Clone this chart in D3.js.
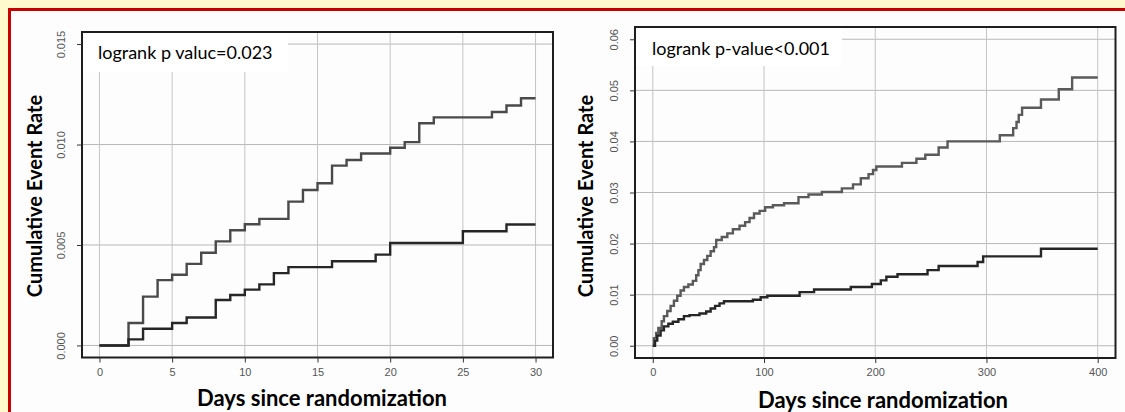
<!DOCTYPE html>
<html lang="en">
<head>
<meta charset="utf-8" />
<title>Cumulative Event Rate</title>
<script src="https://d3js.org/d3.v7.min.js"></script>
<style>
    body {
        margin: 0;
        padding: 0;
        background: #fffacd;
    }
    svg {
        display: block;
    }
    .tick text {
        font-family: "Liberation Sans", Arial, sans-serif;
        font-size: 11px;
        fill: #555;
    }
    .tick line {
        stroke: #333;
    }
    .title {
        font-family: Lato, "Open Sans", sans-serif;
        font-weight: bold;
        fill: #000;
    }
    .note {
        font-family: Lato, "Open Sans", sans-serif;
        font-size: 18px;
        fill: #000;
    }
</style>
</head>
<body>
<svg id="chart"></svg>
<script>
    var w = 1125;
    var h = 412;

    // Left panel: 30 days  [day, cumulative rate]
    var leftUpper = [[0,0],[2,0.00112],[3,0.00243],[4,0.00325],[5,0.00352],[6,0.00406],[7,0.00461],[8,0.00518],
        [9,0.00573],[10,0.00603],[11,0.0063],[13,0.00716],[14,0.00774],[15,0.00807],[16,0.00895],[17,0.00923],
        [18,0.00955],[20,0.00984],[21,0.01012],[22,0.01106],[23,0.01135],[27,0.01162],[28,0.01194],[29,0.0123],[30,0.0123]];
    var leftLower = [[0,0],[2,0.0003],[3,0.00083],[5,0.00112],[6,0.00139],[8,0.00226],[9,0.00251],[10,0.00278],
        [11,0.00304],[12,0.0036],[13,0.0039],[16,0.00419],[19,0.00452],[20,0.0051],[25,0.00568],[28,0.00602],[30,0.00602]];
    var leftXTicks = [0, 5, 10, 15, 20, 25, 30];
    var leftYTicks = [0, 0.005, 0.010, 0.015];
    var leftNote = "logrank p valuc=0.023";

    // Right panel: 400 days
    var rightUpper = [[0,0],[1,0.0015],[3,0.0025],[5,0.0035],[8,0.0048],[10,0.0058],[13,0.0068],[16,0.0078],
        [19,0.0088],[22,0.0098],[25,0.0108],[28,0.0115],[32,0.012],[36,0.0127],[39,0.0138],[41,0.0148],[43,0.016],
        [46,0.0168],[49,0.0176],[52,0.0185],[55,0.0193],[57,0.0207],[62,0.0213],[67,0.022],[72,0.0228],[78,0.0235],
        [83,0.0242],[87,0.025],[91,0.0259],[96,0.0264],[101,0.0271],[108,0.0275],[118,0.0279],[131,0.0291],
        [140,0.0296],[152,0.0301],[170,0.0308],[180,0.0316],[187,0.0328],[194,0.0336],[198,0.0344],[201,0.0351],
        [224,0.0358],[237,0.0366],[245,0.0374],[257,0.0388],[265,0.04],[312,0.0412],[324,0.0426],[327,0.0438],
        [329,0.0452],[332,0.0466],[349,0.0482],[365,0.0502],[377,0.0525],[400,0.0525]];
    var rightLower = [[0,0],[2,0.001],[4,0.002],[7,0.003],[10,0.0038],[14,0.0043],[18,0.0047],[23,0.0052],
        [28,0.0058],[33,0.006],[42,0.0063],[48,0.0067],[52,0.0073],[56,0.0078],[60,0.0083],[64,0.0087],[90,0.009],
        [97,0.0095],[103,0.0098],[132,0.0105],[145,0.011],[178,0.0115],[197,0.0121],[205,0.0128],[210,0.0135],
        [220,0.014],[247,0.0148],[257,0.0156],[292,0.0164],[297,0.0175],[349,0.019],[400,0.019]];
    var rightXTicks = [0, 100, 200, 300, 400];
    var rightYTicks = [0, 0.01, 0.02, 0.03, 0.04, 0.05, 0.06];
    var rightNote = "logrank p-value<0.001";

    var yTitle = "Cumulative Event Rate";
    var xTitle = "Days since randomization";

    var svg = d3.select("#chart")
        .attr("width", w)
        .attr("height", h);

    // yellow slide background with red frame
    svg.append("rect").attr("width", w).attr("height", h).attr("fill", "#fffacd");
    svg.append("rect").attr("x", 11).attr("y", 11).attr("width", w - 11).attr("height", h - 11).attr("fill", "#fdfdfd");
    svg.append("line").attr("x1", 8).attr("x2", w).attr("y1", 9.5).attr("y2", 9.5)
        .attr("stroke", "#c80000").attr("stroke-width", 3);
    svg.append("line").attr("x1", 9.5).attr("x2", 9.5).attr("y1", 8).attr("y2", h)
        .attr("stroke", "#c80000").attr("stroke-width", 3);

    function drawPanel(p) {
        var xMax = d3.max(p.xTicks), yMax = d3.max(p.yTicks);
        // R style axes: 4% padding each side
        var x = d3.scaleLinear().domain([-0.04 * xMax, 1.04 * xMax]).range([p.left, p.right]);
        var y = d3.scaleLinear().domain([-0.04 * yMax, 1.04 * yMax]).range([p.bottom, p.top]);
        var g = svg.append("g");

        // grid
        g.selectAll(".hgrid").data(p.yTicks).enter().append("line")
            .attr("x1", p.left).attr("x2", p.right)
            .attr("y1", function(d) { return y(d); })
            .attr("y2", function(d) { return y(d); })
            .attr("stroke", "#b8b8b8").attr("stroke-width", 1);
        g.selectAll(".vgrid").data(p.xTicks).enter().append("line")
            .attr("x1", function(d) { return x(d); })
            .attr("x2", function(d) { return x(d); })
            .attr("y1", p.bottom).attr("y2", p.top)
            .attr("stroke", "#c4c4c4").attr("stroke-width", 1);

        // white box behind the p value note
        g.append("rect")
            .attr("x", p.left).attr("y", p.top)
            .attr("width", p.boxRight - p.left).attr("height", p.boxBottom - p.top)
            .attr("fill", "#fff");
        g.append("text").attr("class", "note")
            .attr("x", p.noteX).attr("y", p.noteY)
            .text(p.note);

        // curves
        var line = d3.line()
            .x(function(d) { return x(d[0]); })
            .y(function(d) { return y(d[1]); })
            .curve(d3.curveStepAfter);
        g.append("path").datum(p.upper)
            .attr("d", line).attr("fill", "none")
            .attr("stroke", p.upperColor).attr("stroke-width", 2.4);
        g.append("path").datum(p.lower)
            .attr("d", line).attr("fill", "none")
            .attr("stroke", "#262626").attr("stroke-width", 2.4);

        // frame
        g.append("rect")
            .attr("x", p.left).attr("y", p.top)
            .attr("width", p.right - p.left).attr("height", p.bottom - p.top)
            .attr("fill", "none").attr("stroke", "#1e1e1e").attr("stroke-width", 2);

        // axes
        var ya = g.append("g")
            .attr("transform", "translate(" + p.left + ",0)")
            .call(d3.axisLeft(y).tickValues(p.yTicks).tickSize(5).tickFormat(d3.format(p.yFormat)));
        ya.select(".domain").remove();
        ya.selectAll(".tick text")
            .attr("transform", "rotate(-90)")
            .attr("x", 0).attr("dy", 0).attr("y", -17)
            .attr("text-anchor", "middle");

        var xa = g.append("g")
            .attr("transform", "translate(0," + p.bottom + ")")
            .call(d3.axisBottom(x).tickValues(p.xTicks).tickSize(5).tickPadding(5.5).tickFormat(d3.format("d")));
        xa.select(".domain").remove();

        // titles
        g.append("text").attr("class", "title")
            .attr("transform", "translate(" + p.yTitleX + "," + p.yTitleY + ") rotate(-90)")
            .attr("text-anchor", "middle")
            .style("font-size", "20px")
            .text(yTitle);
        g.append("text").attr("class", "title")
            .attr("x", p.xTitleX).attr("y", p.xTitleY)
            .attr("text-anchor", "middle")
            .style("font-size", "22px")
            .text(xTitle);
    }

    drawPanel({
        upper: leftUpper, lower: leftLower, xTicks: leftXTicks, yTicks: leftYTicks,
        note: leftNote, yFormat: ".3f", upperColor: "#4a4a4a",
        left: 82, right: 553, top: 32, bottom: 357.5,
        boxRight: 288, boxBottom: 72, noteX: 98, noteY: 59,
        yTitleX: 42, yTitleY: 196, xTitleX: 322, xTitleY: 405.5
    });

    drawPanel({
        upper: rightUpper, lower: rightLower, xTicks: rightXTicks, yTicks: rightYTicks,
        note: rightNote, yFormat: ".2f", upperColor: "#5a5a5a",
        left: 635, right: 1115.5, top: 27, bottom: 358,
        boxRight: 842, boxBottom: 66, noteX: 652, noteY: 55,
        yTitleX: 593, yTitleY: 196, xTitleX: 883, xTitleY: 408
    });
</script>
</body>
</html>
